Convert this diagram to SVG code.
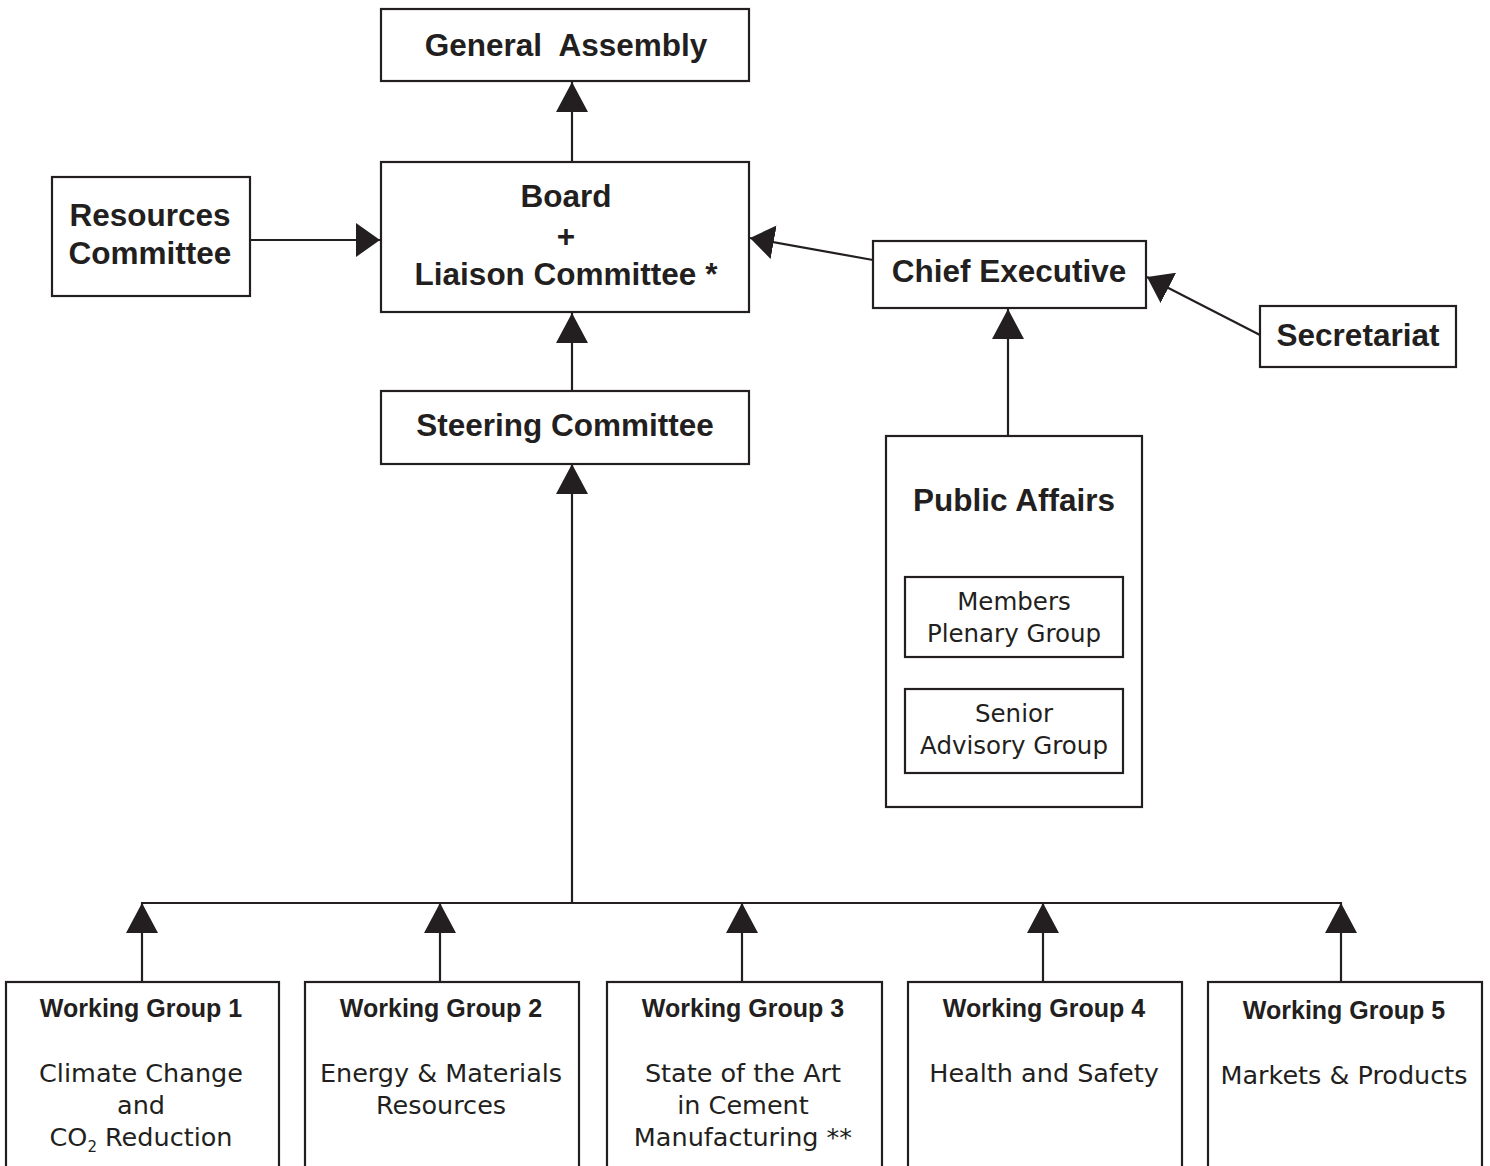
<svg xmlns="http://www.w3.org/2000/svg" width="1490" height="1166" viewBox="0 0 1490 1166">
<defs>
<style>
.box{fill:#fff;stroke:#231f20;stroke-width:2.2}
.ln{fill:none;stroke:#231f20;stroke-width:2.2}
.b{font-family:"Liberation Sans",Arial,sans-serif;font-weight:bold;fill:#231f20;text-anchor:middle}
.big{font-size:31.5px}
.wg{font-size:25px}
.r{font-family:"DejaVu Sans","Liberation Sans",sans-serif;fill:#231f20;text-anchor:middle;font-size:25.5px}
.rs{font-size:24.5px}
</style>
<marker id="arrV" viewBox="0 0 30 32" refX="30" refY="16" markerWidth="30" markerHeight="32" markerUnits="userSpaceOnUse" orient="auto">
<path d="M0,0 L30,16 L0,32 Z" fill="#231f20"/>
</marker>
<marker id="arrH" viewBox="0 0 24 34" refX="24" refY="17" markerWidth="24" markerHeight="34" markerUnits="userSpaceOnUse" orient="auto">
<path d="M0,0 L24,17 L0,34 Z" fill="#231f20"/>
</marker>
</defs>
<rect width="1490" height="1166" fill="#fff"/>

<g id="connectors">
<line class="ln" x1="572" y1="162" x2="572" y2="82" marker-end="url(#arrV)"/>
<line class="ln" x1="572" y1="391" x2="572" y2="313" marker-end="url(#arrV)"/>
<line class="ln" x1="572" y1="903" x2="572" y2="464" marker-end="url(#arrV)"/>
<line class="ln" x1="251" y1="240" x2="380" y2="240" marker-end="url(#arrH)"/>
<line class="ln" x1="873" y1="260" x2="750" y2="238" marker-end="url(#arrH)"/>
<line class="ln" x1="1260" y1="335" x2="1147" y2="277" marker-end="url(#arrH)"/>
<line class="ln" x1="1008" y1="436" x2="1008" y2="309" marker-end="url(#arrV)"/>
<line class="ln" x1="141" y1="903" x2="1342" y2="903"/>
<line class="ln" x1="142" y1="982" x2="142" y2="903" marker-end="url(#arrV)"/>
<line class="ln" x1="440" y1="982" x2="440" y2="903" marker-end="url(#arrV)"/>
<line class="ln" x1="742" y1="982" x2="742" y2="903" marker-end="url(#arrV)"/>
<line class="ln" x1="1043" y1="982" x2="1043" y2="903" marker-end="url(#arrV)"/>
<line class="ln" x1="1341" y1="982" x2="1341" y2="903" marker-end="url(#arrV)"/>
</g>

<g id="general-assembly">
<rect class="box" x="381" y="9" width="368" height="72"/>
<text class="b big" x="566" y="56" xml:space="preserve">General  Assembly</text>
</g>

<g id="board">
<rect class="box" x="381" y="162" width="368" height="150"/>
<text class="b big" x="566" y="207">Board</text>
<text class="b big" x="566" y="247">+</text>
<text class="b big" x="566" y="285">Liaison Committee *</text>
</g>

<g id="resources-committee">
<rect class="box" x="52" y="177" width="198" height="119"/>
<text class="b big" x="150" y="226">Resources</text>
<text class="b big" x="150" y="264">Committee</text>
</g>

<g id="steering-committee">
<rect class="box" x="381" y="391" width="368" height="73"/>
<text class="b big" x="565" y="436">Steering Committee</text>
</g>

<g id="chief-executive">
<rect class="box" x="873" y="241" width="273" height="67"/>
<text class="b big" x="1009" y="282">Chief Executive</text>
</g>

<g id="secretariat">
<rect class="box" x="1260" y="306" width="196" height="61"/>
<text class="b big" x="1358" y="346">Secretariat</text>
</g>

<g id="public-affairs">
<rect class="box" x="886" y="436" width="256" height="371"/>
<text class="b big" x="1014" y="511">Public Affairs</text>
</g>

<g id="members-plenary-group">
<rect class="box" x="905" y="577" width="218" height="80"/>
<text class="r rs" x="1014" y="610">Members</text>
<text class="r rs" x="1014" y="642">Plenary Group</text>
</g>

<g id="senior-advisory-group">
<rect class="box" x="905" y="689" width="218" height="84"/>
<text class="r rs" x="1014" y="722">Senior</text>
<text class="r rs" x="1014" y="754">Advisory Group</text>
</g>

<g id="working-group-1">
<rect class="box" x="6" y="982" width="273" height="230"/>
<text class="b wg" x="141" y="1017">Working Group 1</text>
<text class="r" x="141" y="1082">Climate Change</text>
<text class="r" x="141" y="1114">and</text>
<text class="r" x="141" y="1146">CO<tspan font-size="15" dy="6">2</tspan><tspan dy="-6"> Reduction</tspan></text>
</g>

<g id="working-group-2">
<rect class="box" x="305" y="982" width="274" height="230"/>
<text class="b wg" x="441" y="1017">Working Group 2</text>
<text class="r" x="441" y="1082">Energy &amp; Materials</text>
<text class="r" x="441" y="1114">Resources</text>
</g>

<g id="working-group-3">
<rect class="box" x="607" y="982" width="275" height="230"/>
<text class="b wg" x="743" y="1017">Working Group 3</text>
<text class="r" x="743" y="1082">State of the Art</text>
<text class="r" x="743" y="1114">in Cement</text>
<text class="r" x="743" y="1146">Manufacturing **</text>
</g>

<g id="working-group-4">
<rect class="box" x="908" y="982" width="274" height="230"/>
<text class="b wg" x="1044" y="1017">Working Group 4</text>
<text class="r" x="1044" y="1082">Health and Safety</text>
</g>

<g id="working-group-5">
<rect class="box" x="1208" y="982" width="274" height="230"/>
<text class="b wg" x="1344" y="1019">Working Group 5</text>
<text class="r" x="1344" y="1084">Markets &amp; Products</text>
</g>
</svg>
